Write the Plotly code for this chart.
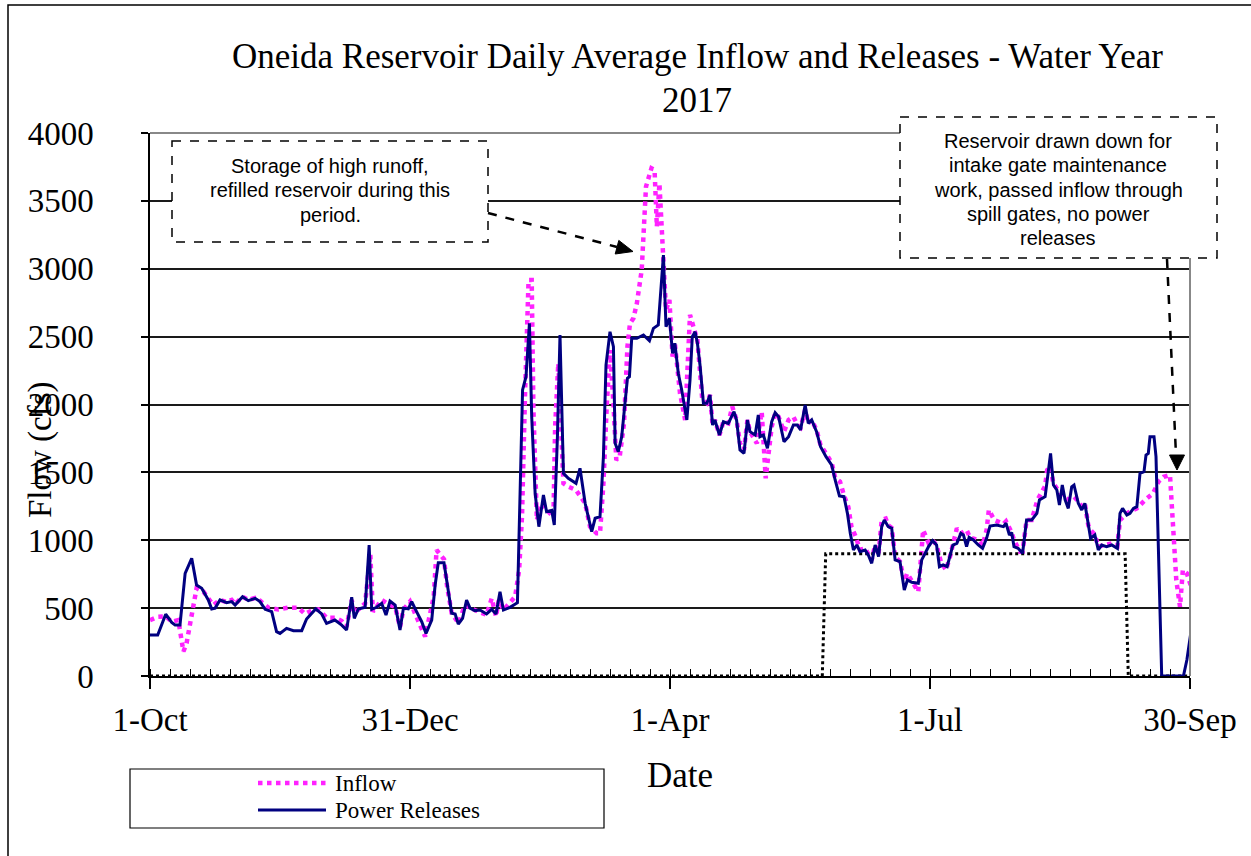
import plotly.graph_objects as go

# ---------------- data ----------------
release_day = [0, 2.7, 5.5, 7.6, 8.8, 10.5, 12.3, 14.6, 16.3, 18.1, 20.4, 21.6, 22.8, 24.5, 26.8, 28.6, 29.8,
               32.4, 34.4, 36.8, 38.5, 40.3, 42.6, 44.3, 45.5, 47.8, 50.2, 53.1, 54.8, 58, 60.1, 61.8, 64.7,
               67.1, 68.8, 70.6, 71.5, 72.9, 75.3, 76.7, 77.6, 79.3, 81.1, 82.6, 84.0, 85.8, 87.5, 88.7, 90.4,
               91.6, 93.3, 95.1, 96.6, 98.6, 99.8, 100.9, 102.9, 104, 105.6, 106.8, 107.9, 109.4, 110.8, 112,
               113.7, 115.5, 117.8, 119.6, 121.1, 122.5, 123.7, 126, 128.6, 130.4, 131.6, 132.8, 133.6, 134.8,
               136.1, 137.7, 138.8, 140.6, 141.5, 142.6, 143.5, 144.7, 146.4, 149.1, 150.5, 152.3, 153.4, 154.6,
               155.8, 157.5, 158.7, 159.6, 161, 162.2, 162.8, 163.9, 165.1, 166.3, 167.1, 167.8, 168.6, 170.4,
               172.7, 174.8, 176.2, 177.9, 179.7, 180.6, 181.8, 182.9, 183.7, 184.9, 186.1, 187.9, 189, 189.8,
               190.8, 191.6, 192.5, 193.7, 194.9, 196, 196.9, 197.7, 199.3, 200.7, 202.4, 204.4, 205.3, 206.5,
               207.9, 209.1, 210, 211.8, 212.9, 213.5, 214.7, 216.1, 217.6, 218.8, 220, 221.9, 223.5, 225.2,
               226.6, 227.7, 229.3, 230.4, 231.6, 233.3, 234.7, 236.6, 238.6, 239.8, 241.3, 242.9, 244.1, 245.1,
               246.2, 247.4, 248.5, 250.3, 251.4, 252.6, 253.8, 255, 256.1, 257, 258.4, 259.6, 260.8, 262.5,
               264, 265.1, 266.6, 268.9, 270.1, 271.3, 272.5, 273.9, 275.3, 276.3, 277.6, 279, 280, 281, 282.4,
               283.8, 284.7, 285.8, 286.7, 288.2, 289.9, 291.4, 292.8, 294, 296.3, 298.7, 299.6, 300.8, 301.6,
               302.4, 303.9, 305.4, 306.8, 308.6, 310.4, 311.3, 313.3, 314.4, 315.2, 316.2, 317.4, 318.3, 319.3,
               320.3, 321.4, 322.6, 323.4, 324.9, 326.1, 327.2, 328.4, 329.2, 330.7, 331.9, 333.1, 334.8, 336.6,
               338.6, 339.5, 340.4, 341.9, 343, 344.2, 345.4, 346.5, 347.9, 348.6, 349.4, 350, 351.4, 352.1,
               354.1, 361.7, 362.9, 364.6]
release_cfs = [302, 302, 455, 395, 375, 375, 756, 867, 670, 646, 560, 494, 500, 560, 540, 548, 523,
               584, 555, 572, 548, 491, 474, 327, 314, 351, 334, 334, 420, 494, 457, 388, 412,
               375, 339, 580, 425, 494, 506, 965, 491, 506, 535, 449, 552, 523, 339, 500, 494,
               548, 474, 400, 314, 412, 670, 835, 835, 683, 462, 457, 383, 425, 560, 500,
               481, 486, 457, 491, 457, 621, 486, 506, 540, 2107, 2205, 2598, 1910, 1346,
               1100, 1333, 1210, 1220, 1112, 1763, 2512, 1493, 1456, 1419, 1530, 1272, 1174, 1063,
               1162, 1174, 1616, 2291, 2536, 2426, 1714, 1652, 1763, 2009, 2193, 2205, 2488, 2488,
               2512, 2470, 2561, 2586, 3100, 2573, 2635, 2377, 2451, 2230, 2107, 1886, 2180, 2500,
               2536, 2451, 2291, 2009, 2009, 2070, 1849, 1886, 1775, 1873, 1861, 1947, 1886, 1665,
               1640, 1886, 1800, 1775, 1923, 1763, 1775, 1677, 1873, 1940, 1910, 1726, 1763, 1849,
               1849, 1812, 1996, 1861, 1886, 1800, 1689, 1616, 1554, 1444, 1326, 1321, 1198, 1051,
               928, 965, 916, 928, 891, 830, 965, 879, 1100, 1149, 1100, 1088, 855, 842,
               633, 707, 690, 683, 855, 904, 953, 997, 965, 805, 818, 805, 879, 965, 977,
               1051, 1039, 953, 1021, 1002, 965, 940, 1014, 1105, 1112, 1100, 1125, 1039, 1057,
               953, 940, 904, 1149, 1149, 1198, 1297, 1321, 1530, 1640, 1407, 1370, 1260, 1407,
               1297, 1235, 1394, 1407, 1272, 1223, 1272, 1100, 1014, 1039, 928, 965, 953, 965,
               940, 1198, 1235, 1186, 1198, 1235, 1247, 1493, 1505, 1628, 1640, 1763, 1763, 1616,
               0, 0, 118, 363]

inflow_day = [0, 2.9, 5.5, 7.6, 9.9, 11.7, 12.8, 15.2, 16.3, 18.7, 20.4, 22.1, 24.5, 26.8, 28.6, 29.8,
              32.4, 34.4, 36.8, 38.5, 41.4, 44.9, 48.4, 51.9, 54.2, 56.5, 58.9, 61.8, 64.7, 67.1, 68.8,
              70.6, 71.5, 75.3, 77.1, 78, 81.1, 84, 85.8, 87.5, 88.7, 91, 94.5, 96.3, 99.3, 100.3, 102.9,
              104, 105.6, 108, 110.2, 112, 113.7, 117.8, 119.6, 121.1, 122.1, 123.7, 127.8, 129.2, 130.2,
              131.3, 132.5, 133.6, 134.2, 135.4, 137.1, 138.8, 141.2, 141.8, 142.9, 144.7, 146.4, 149.1,
              152.3, 154, 156.3, 157.5, 158.7, 159.9, 161, 162.2, 163.2, 164.4, 165.9, 167.1, 168, 169.2,
              170.4, 172.1, 173.6, 175.5, 176.6, 177.4, 178.3, 179.5, 180.6, 181.8, 182.9, 183.7, 185.5,
              187.3, 189, 190.2, 191.6, 193.3, 194.9, 196, 196.9, 197.7, 199.3, 200.7, 202.4, 203.8, 205.3,
              206.5, 207.9, 209.1, 210, 212.4, 214.1, 215.5, 217.6, 218.8, 220, 221.9, 223.5, 225.2, 226.6,
              227.7, 229.3, 230.4, 231.6, 233.3, 234.7, 236.6, 238.6, 239.8, 241.5, 242.9, 244.4, 245.5,
              247, 248.5, 250.3, 252.6, 253.8, 255, 256.1, 257.5, 258.4, 259.6, 260.8, 262.5, 264, 265,
              266.6, 268.9, 270.6, 272.5, 273.9, 275.3, 276.8, 278.6, 280, 282.4, 283.8, 285.8, 287, 289.9,
              291.4, 292.8, 293.6, 295.5, 298.7, 299.6, 301.6, 302.4, 304.5, 305.4, 306.8, 308.6, 310.6,
              311.3, 313.3, 314, 315, 316.2, 317.4, 319.3, 321.4, 323.4, 325.2, 326.1, 327.2, 328.4, 329.2,
              330.7, 331.9, 334.8, 336.6, 338.6, 339.5, 341.9, 343, 345.4, 348.3, 351.1, 353, 354.8, 357,
              358, 359.2, 360.5, 361.5, 362.9, 364.4]
inflow_cfs = [412, 437, 440, 400, 412, 180, 241, 535, 646, 622, 572, 523, 560, 545, 560, 530,
              584, 560, 575, 555, 503, 491, 503, 503, 457, 481, 491, 430, 430, 405, 363,
              560, 462, 535, 900, 474, 560, 523, 510, 360, 490, 548, 375, 290, 584, 928, 860,
              658, 462, 388, 523, 500, 486, 450, 572, 437, 560, 486, 584, 781, 1174,
              2107, 2917, 2917, 1960, 1149, 1272, 1223, 1174, 1837, 2303, 1419, 1395, 1370,
              1272, 1100, 1051, 1051, 1419, 2009, 2401, 2009, 1591, 1616, 1861, 2426, 2598, 2635,
              2745, 2991, 3605, 3740, 3727, 3310, 3629, 3138, 2696, 2770, 2352, 2450, 2082,
              1886, 2660, 2573, 2475, 2033, 2009, 2070, 1849, 1886, 1775, 1873, 1861, 1984, 1886,
              1714, 1665, 1886, 1800, 1714, 1947, 1456, 1837, 1935, 1910, 1800, 1886, 1910, 1849,
              1830, 1960, 1861, 1886, 1812, 1700, 1640, 1570, 1460, 1432, 1330, 1247, 1100,
              1026, 930, 940, 855, 965, 900, 1149, 1160, 1110, 1090, 879, 842, 700, 756,
              700, 621, 1076, 980, 1000, 965, 842, 781, 879, 1088, 1051, 1076, 1021, 1000,
              960, 1076, 1223, 1149, 1120, 1140, 1057, 1002, 916, 916, 1149, 1149, 1297,
              1321, 1400, 1517, 1542, 1419, 1380, 1321, 1300, 1321, 1280, 1247, 1270, 1110, 1076,
              1040, 953, 965, 977, 960, 1149, 1198, 1210, 1235, 1297, 1346, 1432, 1468, 1480,
              1076, 707, 510, 781, 756, 658]

maint_day = [0, 235.3, 236.5, 341.3, 342.4, 364]
maint_cfs = [0, 0, 900, 900, 0, 0]

tick_days = [0, 91, 182, 273, 364]
tick_labels = ["1-Oct", "31-Dec", "1-Apr", "1-Jul", "30-Sep"]

title_lines = ["Oneida Reservoir Daily Average Inflow and Releases - Water Year", "2017"]
note1_lines = ["Storage of high runoff,", "refilled reservoir during this", "period."]
note2_lines = ["Reservoir drawn down for", "intake gate maintenance", "work, passed inflow through",
               "spill gates, no power", "releases"]

# ---------------- layout helpers (pixel -> paper) ----------------
W, H = 1251, 856
L, R, T, B = 150, 1190, 133, 676


def px(x):
    return (x - L) / (R - L)


def py(y):
    return (B - y) / (B - T)


SERIF = "Liberation Serif, Times New Roman, serif"
SANS = "Liberation Sans, Arial, sans-serif"

fig = go.Figure()
fig.add_trace(go.Scatter(x=inflow_day, y=inflow_cfs, mode="lines", name="Inflow",
                         line=dict(color="#ff22ff", width=4.5, dash="dot"), showlegend=False))
fig.add_trace(go.Scatter(x=maint_day, y=maint_cfs, mode="lines", name="Maintenance period",
                         line=dict(color="black", width=3, dash="dot"), showlegend=False))
fig.add_trace(go.Scatter(x=release_day, y=release_cfs, mode="lines", name="Power Releases",
                         line=dict(color="#000080", width=3), showlegend=False))

shapes = []
annotations = []

# outer frame
shapes.append(dict(type="rect", xref="paper", yref="paper", x0=px(8), y0=py(5), x1=px(1300), y1=py(900),
                   line=dict(color="black", width=1.5)))
# right and top plot border
shapes.append(dict(type="line", xref="paper", yref="paper", x0=1, x1=1, y0=0, y1=1,
                   line=dict(color="#888888", width=2)))
shapes.append(dict(type="line", xref="paper", yref="paper", x0=0, x1=1, y0=1, y1=1,
                   line=dict(color="#888888", width=2)))

# annotation box 1
shapes.append(dict(type="rect", xref="paper", yref="paper", x0=px(172), y0=py(141), x1=px(488), y1=py(242),
                   line=dict(color="black", width=1.5, dash="dash"), fillcolor="white", layer="above"))
for i, line in enumerate(note1_lines):
    annotations.append(dict(xref="paper", yref="paper", x=px(330), y=py(166 + 24.3 * i), showarrow=False,
                            text=line, font=dict(family=SANS, size=20, color="black"),
                            xanchor="center", yanchor="middle"))
# arrow 1
shapes.append(dict(type="line", xref="paper", yref="paper", x0=px(488), y0=py(213), x1=px(617), y1=py(247),
                   line=dict(color="black", width=2.5, dash="dash")))
shapes.append(dict(type="path", xref="paper", yref="paper",
                   path="M {},{} L {},{} L {},{} Z".format(px(633), py(251.5), px(618.8), py(240.4),
                                                           px(615.2), py(254)),
                   fillcolor="black", line=dict(color="black", width=1)))

# annotation box 2
shapes.append(dict(type="rect", xref="paper", yref="paper", x0=px(900), y0=py(117), x1=px(1217), y1=py(258),
                   line=dict(color="black", width=1.5, dash="dash"), fillcolor="white", layer="above"))
for i, line in enumerate(note2_lines):
    annotations.append(dict(xref="paper", yref="paper", x=px(1058), y=py(141 + 24.3 * i), showarrow=False,
                            text=line, font=dict(family=SANS, size=20, color="black"),
                            xanchor="center", yanchor="middle"))
# arrow 2
shapes.append(dict(type="line", xref="paper", yref="paper", x0=px(1167), y0=py(259), x1=px(1176), y1=py(455),
                   line=dict(color="black", width=2.5, dash="dash")))
shapes.append(dict(type="path", xref="paper", yref="paper",
                   path="M {},{} L {},{} L {},{} Z".format(px(1177), py(470), px(1169.5), py(455),
                                                           px(1184.5), py(455)),
                   fillcolor="black", line=dict(color="black", width=1)))

# title
annotations.append(dict(xref="paper", yref="paper", x=px(697), y=py(57), showarrow=False,
                        text=title_lines[0], font=dict(family=SERIF, size=35, color="black"),
                        xanchor="center", yanchor="middle"))
annotations.append(dict(xref="paper", yref="paper", x=px(697), y=py(100), showarrow=False,
                        text=title_lines[1], font=dict(family=SERIF, size=35, color="black"),
                        xanchor="center", yanchor="middle"))
# axis titles
annotations.append(dict(xref="paper", yref="paper", x=px(40), y=py(450), showarrow=False,
                        text="Flow (cfs)", textangle=-90, font=dict(family=SERIF, size=33, color="black"),
                        xanchor="center", yanchor="middle"))
annotations.append(dict(xref="paper", yref="paper", x=px(680), y=py(775), showarrow=False,
                        text="Date", font=dict(family=SERIF, size=35, color="black"),
                        xanchor="center", yanchor="middle"))

# legend (drawn manually)
shapes.append(dict(type="rect", xref="paper", yref="paper", x0=px(130), y0=py(769), x1=px(604), y1=py(828),
                   line=dict(color="black", width=1.2)))
shapes.append(dict(type="line", xref="paper", yref="paper", x0=px(258), x1=px(326), y0=py(783), y1=py(783),
                   line=dict(color="#ff22ff", width=4.5, dash="dot")))
shapes.append(dict(type="line", xref="paper", yref="paper", x0=px(258), x1=px(326), y0=py(810), y1=py(810),
                   line=dict(color="#000080", width=3)))
annotations.append(dict(xref="paper", yref="paper", x=px(333), y=py(783), showarrow=False, text="Inflow",
                        font=dict(family=SERIF, size=23, color="black"), xanchor="left", yanchor="middle"))
annotations.append(dict(xref="paper", yref="paper", x=px(333), y=py(810), showarrow=False,
                        text="Power Releases",
                        font=dict(family=SERIF, size=23, color="black"), xanchor="left", yanchor="middle"))

fig.update_layout(
    width=W, height=H,
    margin=dict(l=L, r=W - R, t=T, b=H - B, pad=0),
    paper_bgcolor="white", plot_bgcolor="white",
    showlegend=False,
    shapes=shapes, annotations=annotations,
    xaxis=dict(range=[0, 364], tickmode="array", tickvals=tick_days, ticktext=tick_labels,
               showgrid=False, zeroline=False, showline=True, linecolor="black", linewidth=1.5,
               ticks="outside", ticklen=11, tickwidth=1.5, tickcolor="black",
               tickfont=dict(family=SERIF, size=33, color="black"), ticklabelstandoff=3,
               minor=dict(tickmode="linear", tick0=0, dtick=7, ticks="inside", ticklen=7,
                          tickwidth=1.2, tickcolor="black", showgrid=False)),
    yaxis=dict(range=[0, 4000], dtick=500, tick0=0, showgrid=True, gridcolor="#1a1a1a", gridwidth=1.5,
               zeroline=False, showline=True, linecolor="black", linewidth=1.5,
               ticks="outside", ticklen=7, tickwidth=1.5, tickcolor="black",
               tickfont=dict(family=SERIF, size=33, color="black"), ticklabelstandoff=41),
)

fig.write_html("out.html", config={"displayModeBar": False},
               post_script="document.body.style.margin='0px';")
